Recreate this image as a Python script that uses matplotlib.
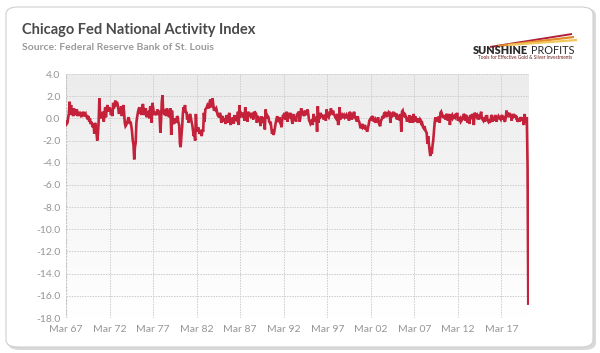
import numpy as np
import matplotlib
matplotlib.use("Agg")
import matplotlib.pyplot as plt
from matplotlib.patches import FancyBboxPatch
from matplotlib.lines import Line2D

# ---- data: CFNAI monthly, Mar 1967 .. Apr 2020 ----
y1967 = [-0.3, -0.5, -0.4, 0.1, 0.4, 1.5, 0.6, 1.2, 0.3, 0.6]
y1968 = [0.2, 0.9, 0.3, 0.5, 0.4, 0.8, 0.2, 0.5, 0.3, 0.6, 0.4, 0.1]
y1969 = [0.5, 0.4, 0.6, 0.2, 0.3, 0.4, 0.1, 0.3, -0.1, 0.2, -0.3, 0.0]
y1970 = [-0.5, -0.3, -0.6, -0.8, -0.5, -1.4, -0.4, -0.7, -1.3, -2.0, -1.4, -0.3]
y1971 = [1.8, 0.3, 0.0, 0.5, 0.2, 0.6, -0.3, 0.4, 1.0, 0.1, 0.8, 1.2]
y1972 = [0.9, 0.6, 1.0, 0.8, 0.3, 0.7, 0.2, 1.4, 0.9, 1.2, 1.6, 1.1]
y1973 = [1.5, 1.3, 0.9, 0.4, 0.7, 0.5, 1.1, 0.2, 0.9, 1.2, 0.6, -0.4]
y1974 = [-0.7, -0.6, -0.4, -0.2, 0.1, -0.1, -0.5, -0.3, -0.7, -1.2, -2.0, -2.4]
y1975 = [-3.7, -2.6, -2.2, -0.4, 0.1, 0.5, 0.8, 1.0, 0.4, 0.7, 0.3, 1.0]
y1976 = [1.3, 0.8, 0.3, 0.5, 0.9, 0.1, 0.4, 0.5, 0.3, 0.0, 1.1, 0.9]
y1977 = [-0.4, 1.4, 1.0, 0.5, 0.3, 0.6, 0.4, 0.3, 0.8, 0.4, 0.7, 0.2]
y1978 = [-1.3, -0.2, 1.5, 2.1, 0.4, 0.8, 0.3, 0.6, 0.2, 0.9, 0.7, 0.5]
y1979 = [0.1, 0.5, 0.9, -1.5, 0.7, -0.1, -0.4, -0.5, 0.0, -0.2, -0.4, 0.2]
y1980 = [0.1, -0.4, -0.6, -2.3, -2.6, -1.6, -0.8, 0.4, 1.0, 0.8, 1.2, 0.5]
y1981 = [0.6, -0.1, 0.3, -0.4, 0.2, 0.4, 0.1, -0.3, -0.6, -1.1, -1.6, -1.4]
y1982 = [-2.0, 0.4, -1.0, -1.2, -0.8, -1.1, -1.4, -1.2, -1.3, -1.6, -1.0, -1.2]
y1983 = [0.5, -0.3, 0.8, 0.9, 1.0, 1.2, 1.1, 0.9, 1.5, 1.7, 1.2, 1.0]
y1984 = [1.8, 1.2, 0.7, 1.0, 0.8, 0.9, 0.6, 0.3, 0.2, 0.1, 0.5, 0.3]
y1985 = [-0.4, 0.1, 0.2, -0.3, 0.0, -0.2, -0.5, 0.3, -0.1, -0.4, 0.2, 0.5]
y1986 = [-0.2, -0.6, -0.1, -0.3, 0.1, -0.5, 0.3, -0.2, 0.2, -0.1, 0.0, 0.6]
y1987 = [-0.6, 1.2, 0.1, 0.2, 0.4, 0.3, 0.5, 0.2, -0.2, 1.0, 0.4, 0.5]
y1988 = [-0.3, 0.6, 0.4, 0.3, 0.2, 0.5, 0.1, 0.3, -0.1, 0.6, 0.4, 0.5]
y1989 = [0.4, -0.4, 0.2, 0.1, -0.3, -0.1, -0.7, 0.2, -0.4, -0.3, -0.1, 0.1]
y1990 = [-1.0, 0.8, 0.3, 0.0, 0.2, 0.1, -0.3, -0.4, -0.3, -0.9, -1.4, -1.0]
y1991 = [-1.5, -1.2, -0.8, -0.4, -0.1, 0.2, -0.2, -0.3, 0.1, -0.4, -0.5, -0.8]
y1992 = [-0.1, 0.3, 0.2, 0.5, -0.1, 0.1, 0.6, -0.3, 0.1, 0.3, 0.2, 0.5]
y1993 = [0.2, -0.1, -0.5, 0.4, -0.2, 0.0, 0.1, -0.3, 0.3, 0.4, 0.5, 0.6]
y1994 = [-0.3, 0.1, 0.9, 0.6, 0.5, 0.4, 0.2, 0.7, 0.3, 0.5, 0.6, 0.8]
y1995 = [0.3, -0.2, -0.3, -0.5, -0.4, -0.1, -0.6, 0.4, 0.1, -0.3, 0.0, 0.1]
y1996 = [-1.2, 1.1, -0.4, 0.3, 0.2, 0.5, 0.1, 0.2, 0.3, -0.1, 0.2, 0.3]
y1997 = [-0.2, 0.8, 0.4, 0.2, 0.1, 0.4, 0.3, 0.9, 0.6, 0.5, 0.7, 0.4]
y1998 = [0.3, 0.1, 0.0, 0.2, 0.4, -0.6, -0.3, 1.0, -0.1, 0.2, 0.0, 0.3]
y1999 = [0.2, 0.3, 0.1, 0.2, 0.3, 0.0, 0.4, 0.1, -0.2, 0.6, 0.3, 0.5]
y2000 = [-0.1, 0.4, 0.2, 0.6, 0.1, 0.0, -0.1, -0.3, 0.2, -0.2, -0.3, -0.6]
y2001 = [-0.9, -0.7, -0.5, -0.8, -0.7, -0.8, -0.6, -0.9, -1.0, -1.2, -0.9, -0.6]
y2002 = [-0.2, -0.1, 0.0, -0.2, 0.1, 0.2, -0.3, -0.2, -0.1, -0.4, -0.1, -0.3]
y2003 = [0.1, -0.4, -0.6, -0.7, -0.2, -0.1, 0.2, 0.0, 0.3, 0.2, 0.6, 0.1]
y2004 = [0.3, 0.4, 0.5, 0.2, 0.6, -0.4, 0.5, 0.1, 0.3, 0.6, 0.2, 0.5]
y2005 = [0.3, 0.4, -0.1, 0.2, 0.1, 0.3, -0.2, 0.4, -1.2, 0.6, 0.7, 0.4]
y2006 = [0.5, 0.1, 0.2, 0.0, -0.3, 0.1, -0.2, 0.3, -0.4, 0.0, -0.1, 0.2]
y2007 = [-0.4, 0.4, -0.1, 0.2, -0.3, -0.1, -0.2, -0.4, 0.0, -0.4, -0.1, -0.2]
y2008 = [-0.6, -0.5, -0.8, -0.9, -0.7, -1.0, -1.2, -1.3, -2.3, -1.6, -2.3, -2.9]
y2009 = [-3.4, -2.6, -3.2, -2.5, -2.0, -1.2, -0.4, 0.1, -0.2, -0.3, 0.1, -0.2]
y2010 = [0.2, -0.4, 0.5, 0.6, 0.4, 0.1, 0.3, 0.0, 0.2, -0.1, 0.3, 0.4]
y2011 = [-0.2, 0.0, 0.4, -0.6, 0.1, 0.2, 0.3, 0.0, 0.1, 0.2, 0.1, 0.4]
y2012 = [0.2, 0.5, -0.2, 0.1, -0.1, 0.0, -0.3, -0.2, 0.0, -0.1, 0.4, 0.3]
y2013 = [-0.2, 0.3, 0.2, -0.4, 0.1, 0.0, -0.5, 0.3, 0.2, 0.1, 0.4, 0.1]
y2014 = [-0.6, 0.5, 0.4, 0.2, 0.1, 0.3, 0.2, -0.1, 0.3, 0.2, 0.6, 0.0]
y2015 = [-0.1, -0.2, 0.1, -0.3, 0.0, -0.1, 0.3, -0.2, -0.3, -0.1, -0.4, -0.2]
y2016 = [0.2, 0.3, -0.3, 0.1, -0.2, 0.1, 0.3, -0.3, -0.1, 0.0, 0.2, 0.1]
y2017 = [0.0, -0.1, 0.2, 0.3, -0.1, 0.2, -0.2, -0.3, 0.1, 0.7, 0.2, 0.3]
y2018 = [0.1, 0.5, 0.2, 0.4, -0.2, 0.3, 0.2, 0.4, 0.1, 0.3, 0.1, 0.2]
y2019 = [-0.3, -0.2, 0.0, -0.3, 0.1, 0.0, -0.2, 0.1, -0.3, -0.6, 0.4, -0.3]
y2020 = [-0.3, 0.1, -4.2, -16.7]

years = [y1967, y1968, y1969, y1970, y1971, y1972, y1973, y1974, y1975, y1976,
         y1977, y1978, y1979, y1980, y1981, y1982, y1983, y1984, y1985, y1986,
         y1987, y1988, y1989, y1990, y1991, y1992, y1993, y1994, y1995, y1996,
         y1997, y1998, y1999, y2000, y2001, y2002, y2003, y2004, y2005, y2006,
         y2007, y2008, y2009, y2010, y2011, y2012, y2013, y2014, y2015, y2016,
         y2017, y2018, y2019, y2020]
values = np.array([v for yr in years for v in yr])

x_tick_labels = ["Mar 67", "Mar 72", "Mar 77", "Mar 82", "Mar 87", "Mar 92",
                 "Mar 97", "Mar 02", "Mar 07", "Mar 12", "Mar 17"]
y_ticks = [4, 2, 0, -2, -4, -6, -8, -10, -12, -14, -16, -18]

months = np.arange(len(values))

# ---- figure ----
plt.rcParams['font.family'] = ['Lato', 'DejaVu Sans']
fig = plt.figure(figsize=(6.0, 3.53), dpi=100)
fig.patch.set_facecolor('white')

# frame with shadow
shadow = FancyBboxPatch((8/600, 1 - 350/353), 588/600, 342/353,
                        boxstyle="round,pad=0,rounding_size=0.02",
                        transform=fig.transFigure, facecolor='#d9d9d9',
                        edgecolor='none', zorder=-3)
fig.patches.append(shadow)
frame = FancyBboxPatch((6/600, 1 - 347/353), 587/600, 340/353,
                       boxstyle="round,pad=0,rounding_size=0.02",
                       transform=fig.transFigure, facecolor='white',
                       edgecolor='#cfcfcf', linewidth=0.8, zorder=-2)
fig.patches.append(frame)

ax = fig.add_axes([66/600, 1 - 318/353, 463/600, 244/353])
ax.set_zorder(1)
ax.set_facecolor('none')

# gradient background
grad = np.linspace(0, 1, 256).reshape(-1, 1)
ax.imshow(grad, cmap=matplotlib.colors.LinearSegmentedColormap.from_list(
    'g', ['#ececec', '#ffffff']), aspect='auto',
    extent=(0, 1, 0, 1), transform=ax.transAxes, zorder=0, origin='upper')

ax.plot(months, values, color='#c4213a', linewidth=1.9, zorder=3,
        solid_joinstyle='miter')

ax.set_xlim(0, 638)
ax.set_ylim(-18, 4)
ax.set_xticks(np.arange(0, 60 * len(x_tick_labels), 60))
ax.set_xticklabels(x_tick_labels)
ax.set_yticks(y_ticks)
ax.set_yticklabels([f"{t:.1f}" for t in y_ticks])
ax.tick_params(axis='both', length=0, labelsize=7.5, colors='#959595', pad=4)
ax.tick_params(axis='x', pad=5)
ax.grid(True, color='#cccccc', linestyle=(0, (1.5, 1.2)), linewidth=0.7, zorder=1)
for s in ax.spines.values():
    s.set_visible(False)
ax.axvline(0, color='#bdbdbd', linewidth=0.9, linestyle=(0, (1.5, 1.2)), zorder=1)

# titles
fig.text(22/600, 1 - 30/353, "Chicago Fed National Activity Index",
         fontsize=10.5, fontweight='bold', color='#4a4a4a', va='center', ha='left')
fig.text(22/600, 1 - 47/353, "Source: Federal Reserve Bank of St. Louis",
         fontsize=7.5, fontweight='bold', color='#9a9a9a', va='center', ha='left')

# logo
for (x0, y0, x1, y1, c, lw) in [
        (490, 47, 572, 34, '#b0203a', 1.4),
        (498, 46, 574, 37, '#e08a2a', 1.6),
        (508, 45, 577, 40, '#f2c45a', 1.6)]:
    fig.add_artist(Line2D([x0/600, x1/600], [1 - y0/353, 1 - y1/353],
                          color=c, linewidth=lw, transform=fig.transFigure,
                          solid_capstyle='butt'))
fig.text(473/600, 1 - 50/353, "SUNSHINE", fontsize=7.8, fontweight='heavy',
         color='#2a2a2a', va='center', ha='left')
fig.text(531/600, 1 - 50/353, "PROFITS", fontsize=7.8, color='#2a2a2a',
         va='center', ha='left')
fig.text(525/600, 1 - 57.5/353, "Tools for Effective Gold & Silver Investments",
         fontsize=3.4, color='#6a1a1a', va='center', ha='center')

fig.savefig("out.png", dpi=100)
